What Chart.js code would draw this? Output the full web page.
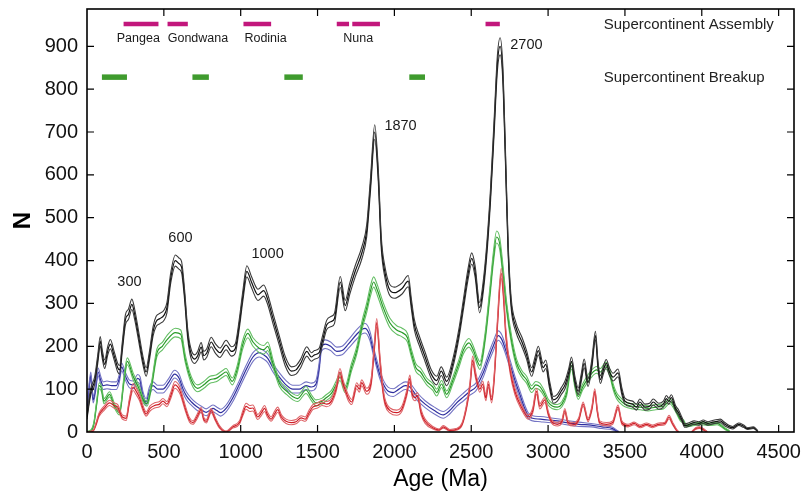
<!DOCTYPE html>
<html>
<head>
<meta charset="utf-8">
<script src="https://cdn.jsdelivr.net/npm/chart.js@4/dist/chart.umd.min.js"></script>
<style>
  html, body { margin: 0; padding: 0; background: #ffffff; }
  #wrap { width: 803px; height: 496px; }
</style>
</head>
<body>
<div id="wrap"><canvas id="c" width="803" height="496"></canvas></div>
<script>
// Age distribution of zircon counts (N) with upper / lower confidence bounds.
// Each row: [age (Ma), N, half-width of the confidence band]
const blackSeries = [
  [0,35,5],[15,75,7],[25,95,8],[50,120,9],[70,170,10],[86,212,11],[100,180,10],[115,158,10],
  [135,190,10],[152,205,11],[175,180,10],[200,150,10],[212,145,10],[230,200,11],[250,262,12],
  [270,275,12],[292,298,12],[310,275,12],[340,215,11],[365,165,10],[385,140,10],[405,175,10],
  [430,235,11],[450,258,12],[475,265,12],[500,272,12],[520,290,12],[545,360,12],[575,400,13],
  [598,393,13],[615,385,13],[635,320,12],[655,230,11],[675,185,11],[700,170,10],[720,178,10],
  [743,198,11],[760,178,10],[780,185,10],[808,210,11],[835,195,11],[865,185,11],[905,203,11],
  [940,188,11],[965,195,11],[990,250,11],[1015,320,12],[1040,375,13],[1070,350,13],[1100,325,13],
  [1112,320,13],[1150,330,13],[1175,310,12],[1210,265,12],[1250,215,11],[1290,165,11],[1330,142,10],
  [1360,145,10],[1390,160,10],[1430,188,11],[1460,175,10],[1480,180,10],[1510,185,10],[1530,210,11],
  [1560,250,11],[1590,258,12],[1610,265,12],[1648,350,13],[1680,295,12],[1710,335,13],[1745,375,13],
  [1790,420,14],[1820,470,14],[1845,580,15],[1872,700,17],[1895,600,15],[1915,440,14],[1940,370,13],
  [1965,335,13],[2000,325,13],[2050,335,13],[2090,352,13],[2110,300,12],[2130,250,12],[2165,210,11],
  [2200,175,11],[2240,135,10],[2275,120,10],[2305,142,10],[2340,118,10],[2380,160,10],[2420,230,11],
  [2450,300,12],[2480,370,13],[2503,405,13],[2525,375,13],[2555,290,12],[2575,330,13],[2600,420,14],
  [2625,550,15],[2650,720,17],[2670,860,18],[2688,900,20],[2705,840,18],[2722,650,16],[2740,430,14],
  [2760,300,12],[2790,245,11],[2830,210,11],[2860,180,10],[2893,140,10],[2915,165,10],[2936,190,10],
  [2968,150,10],[2985,158,10],[3010,110,9],[3035,75,8],[3060,80,8],[3085,95,8],[3110,110,9],
  [3135,140,9],[3152,165,10],[3175,120,9],[3196,95,8],[3215,125,9],[3235,160,10],[3260,115,9],
  [3285,160,10],[3308,225,10],[3325,155,9],[3340,122,9],[3360,145,9],[3378,160,9],[3400,140,9],
  [3423,128,9],[3455,138,9],[3480,95,8],[3500,72,7],[3550,65,7],[3575,58,7],[3597,70,7],
  [3630,58,7],[3660,60,7],[3684,70,7],[3720,60,7],[3750,65,7],[3770,78,7],[3785,72,7],
  [3802,80,7],[3830,55,6],[3850,45,6],[3870,30,5],[3890,15,4],[3920,18,4],[3950,22,4],
  [3980,20,4],[4010,24,4],[4040,20,4],[4070,23,4],[4100,25,4],[4120,26,4],[4150,18,4],
  [4180,12,3],[4200,10,3],[4240,18,3],[4270,14,3],[4300,8,2],[4335,10,2],[4365,2,1]
];

const greenSeries = [
  [0,0,1],[30,5,2],[45,20,3],[62,65,5],[80,108,7],[95,100,7],[110,72,6],[147,88,6],[180,60,5],
  [212,45,5],[240,120,7],[262,165,8],[300,130,8],[340,100,7],[370,72,6],[390,66,6],[420,110,7],
  [455,185,9],[490,200,9],[520,215,10],[575,232,10],[610,228,10],[640,170,9],[680,120,8],
  [720,102,8],[760,110,8],[800,122,8],[840,125,8],[880,135,8],[905,140,8],[945,118,8],
  [980,150,9],[1010,200,10],[1046,230,10],[1080,210,10],[1122,195,10],[1150,192,10],[1176,200,10],
  [1210,160,9],[1252,114,8],[1300,95,8],[1340,82,7],[1370,78,7],[1425,98,8],[1460,80,7],
  [1490,68,7],[1530,72,7],[1556,80,7],[1590,90,7],[1620,110,8],[1646,128,8],[1679,100,8],
  [1720,150,9],[1755,190,9],[1790,250,10],[1820,290,11],[1845,330,12],[1865,350,12],[1890,330,12],
  [1928,290,11],[1970,255,11],[2015,238,10],[2050,232,10],[2085,220,10],[2110,185,9],[2140,150,9],
  [2170,140,9],[2210,118,8],[2250,105,8],[2275,92,8],[2307,112,8],[2340,88,8],[2380,120,8],
  [2420,160,9],[2450,192,9],[2485,208,10],[2515,190,9],[2540,165,9],[2556,155,9],[2590,220,10],
  [2620,320,12],[2645,410,13],[2665,455,14],[2685,440,14],[2708,370,13],[2730,293,11],[2762,215,10],
  [2795,161,9],[2830,135,8],[2860,122,8],[2893,100,8],[2920,110,8],[2946,106,8],[2975,90,7],
  [3000,70,7],[3030,60,6],[3060,58,6],[3090,65,6],[3120,90,7],[3152,155,8],[3175,110,8],
  [3196,83,7],[3225,105,7],[3250,120,8],[3280,135,8],[3315,145,8],[3340,140,8],[3375,155,8],
  [3400,140,8],[3423,106,7],[3445,85,7],[3467,75,7],[3500,65,6],[3550,60,6],[3600,58,6],
  [3650,55,6],[3700,58,6],[3750,60,6],[3791,72,6],[3830,52,5],[3860,30,4],[3880,25,4],
  [3900,15,3],[3950,18,3],[4000,20,3],[4050,18,3],[4100,20,3],[4150,8,2],[4180,2,1]
];

const blueSeries = [
  [0,60,6],[12,100,8],[25,132,8],[40,75,7],[55,100,8],[72,140,9],[90,120,9],[105,108,9],
  [130,110,9],[160,108,9],[190,108,9],[210,125,9],[225,152,9],[250,130,9],[277,112,9],[300,110,9],
  [330,125,9],[345,120,9],[365,85,8],[385,70,8],[405,95,9],[430,108,9],[460,100,9],[494,100,9],
  [530,115,9],[570,135,9],[600,125,9],[625,100,9],[646,85,9],[680,70,8],[711,60,8],[745,52,8],
  [776,46,8],[819,55,8],[845,50,8],[870,45,8],[905,55,8],[949,80,9],[990,110,9],[1035,145,10],
  [1080,175,10],[1122,185,10],[1150,180,10],[1176,172,10],[1210,150,10],[1252,128,10],[1295,110,10],
  [1339,100,9],[1380,100,9],[1425,108,9],[1460,105,9],[1490,112,9],[1510,150,10],[1525,198,10],
  [1550,205,10],[1585,200,10],[1625,188,10],[1660,190,10],[1700,205,10],[1755,228,11],[1790,240,11],
  [1810,242,11],[1840,225,11],[1863,190,10],[1900,140,10],[1928,112,9],[1960,95,9],[1993,92,9],
  [2030,100,9],[2070,108,9],[2100,105,9],[2150,82,9],[2200,65,8],[2260,50,8],[2318,40,8],
  [2360,50,8],[2405,68,8],[2450,82,9],[2492,95,9],[2530,105,9],[2578,138,10],[2610,170,10],
  [2643,200,11],[2676,225,11],[2700,215,11],[2725,190,10],[2751,160,10],[2785,120,9],[2816,88,9],
  [2845,58,8],[2871,38,7],[2900,32,6],[2950,30,6],[3000,28,6],[3060,26,5],[3120,22,5],
  [3200,18,5],[3280,16,4],[3350,12,4],[3420,8,3],[3445,3,2],[3460,0,1]
];

const redSeries = [
  [0,0,1],[40,3,1],[60,20,3],[78,40,4],[110,55,5],[147,68,6],[175,62,6],[200,58,6],[230,35,5],
  [255,32,5],[275,70,6],[300,105,8],[320,95,8],[342,80,7],[365,55,6],[385,42,5],[410,55,6],
  [440,62,6],[472,65,6],[494,72,6],[520,65,6],[545,85,7],[572,110,8],[600,100,8],[613,88,7],
  [640,55,6],[667,28,5],[689,22,4],[715,35,5],[743,52,5],[760,30,4],[776,25,4],[808,50,5],
  [835,30,4],[862,12,3],[905,1,1],[949,12,3],[992,22,4],[1015,45,6],[1035,60,7],[1060,55,7],
  [1079,56,7],[1111,35,6],[1135,45,6],[1155,55,7],[1175,40,6],[1198,30,5],[1220,42,6],[1241,52,6],
  [1265,35,5],[1295,25,5],[1330,22,5],[1360,24,5],[1393,33,5],[1420,30,5],[1445,45,6],[1469,58,6],
  [1500,62,6],[1530,68,6],[1560,65,6],[1590,72,6],[1620,100,7],[1646,140,8],[1665,115,8],
  [1679,100,7],[1700,80,7],[1722,70,6],[1755,108,7],[1772,100,7],[1787,115,7],[1820,95,7],
  [1850,120,8],[1870,200,9],[1885,255,10],[1907,165,9],[1925,100,8],[1939,70,7],[1972,50,6],
  [2015,45,6],[2050,55,6],[2080,90,7],[2101,125,8],[2115,90,7],[2135,80,7],[2150,85,7],
  [2175,45,6],[2200,25,5],[2250,10,3],[2290,5,2],[2318,12,3],[2360,4,2],[2400,6,2],[2440,18,3],
  [2470,60,5],[2492,110,7],[2509,168,9],[2530,130,8],[2556,100,7],[2575,112,7],[2595,80,7],
  [2611,112,7],[2633,75,7],[2650,130,8],[2670,250,10],[2695,370,12],[2710,320,12],[2725,230,10],
  [2751,150,9],[2784,95,8],[2827,58,6],[2871,35,5],[2900,50,6],[2925,95,7],[2946,60,6],
  [2979,75,6],[3000,45,5],[3022,25,4],[3060,18,4],[3090,25,4],[3109,50,5],[3130,22,4],
  [3170,18,4],[3200,30,4],[3228,65,5],[3260,28,4],[3285,55,5],[3304,95,6],[3320,50,5],
  [3336,22,4],[3380,18,4],[3420,22,4],[3455,58,5],[3480,22,4],[3520,15,3],[3560,20,3],
  [3600,13,3],[3640,18,3],[3680,13,3],[3720,18,3],[3760,20,3],[3787,35,4],[3810,20,3],
  [3835,5,2],[3850,0,1],[3900,null,0],[3935,0,1],[3960,8,2],[3985,10,2],[4010,6,2],[4035,0,1]
];

// Supercontinent assembly / breakup intervals: [start Ma, end Ma]
const assemblySpans = [[238,465],[524,656],[1018,1198],[1625,1705],[1726,1906],[2593,2686]];
const breakupSpans  = [[97,260],[686,793],[1284,1404],[2097,2199]];
const assemblyLevel = 952;
const breakupLevel  = 828;

// Supercontinent names: [text, age, N]
const continentNames = [["Pangea",334,919],["Gondwana",722,919],["Rodinia",1162,919],["Nuna",1765,919]];
// Peak ages: [text, age, N]
const peakLabels = [["300",276,350],["600",608,453],["1000",1175,416],["1870",2040,713],["2700",2859,904]];
// Legend captions: [text, age, N]
const legendTexts = [["Supercontinent Assembly",3362,950],["Supercontinent Breakup",3362,827]];

const xTicks = [0,500,1000,1500,2000,2500,3000,3500,4000,4500];
const yTicks = [0,100,200,300,400,500,600,700,800,900];

const FONT = '"Liberation Sans", Arial, Helvetica, sans-serif';

function band(rows, label, midColor, edgeColor) {
  const clean = v => (v === null ? null : Math.max(0, v));
  const mk = (sign, color, w) => ({
    label: label,
    data: rows.map(r => ({ x: r[0], y: r[1] === null ? null : clean(r[1] + sign * r[2]) })),
    borderColor: color,
    borderWidth: w,
    pointRadius: 0,
    fill: false,
    cubicInterpolationMode: 'monotone',
    spanGaps: false
  });
  return [mk(1, edgeColor, 1.1), mk(0, midColor, 1.2), mk(-1, edgeColor, 1.1)];
}

function spanSets(spans, level, color, width) {
  return spans.map(s => ({
    label: 'span',
    data: [{ x: s[0], y: level }, { x: s[1], y: level }],
    borderColor: color,
    borderWidth: width,
    borderCapStyle: 'butt',
    pointRadius: 0,
    fill: false
  }));
}

const datasets = [].concat(
  spanSets(assemblySpans, assemblyLevel, '#c2177c', 4.5),
  spanSets(breakupSpans, breakupLevel, '#3f9b2e', 5.5),
  band(blackSeries, 'all', '#111111', '#3a3a3a'),
  band(redSeries, 'red', '#cf1d26', '#de6468'),
  band(greenSeries, 'green', '#279a27', '#64bf64'),
  band(blueSeries, 'blue', '#2e2e9e', '#7474c4')
);

// Frame with inward ticks on all four sides, plus the annotation texts.
const frameAndText = {
  id: 'frameAndText',
  afterDatasetsDraw(chart) {
    const ctx = chart.ctx;
    const a = chart.chartArea;
    const xs = chart.scales.x, ys = chart.scales.y;
    ctx.save();
    ctx.strokeStyle = '#000';
    ctx.lineWidth = 1.6;
    ctx.strokeRect(a.left, a.top, a.right - a.left, a.bottom - a.top);
    ctx.lineWidth = 1.2;
    const tl = 7;
    ctx.beginPath();
    xTicks.forEach(v => {
      if (v === 0) return;
      const px = xs.getPixelForValue(v);
      ctx.moveTo(px, a.bottom); ctx.lineTo(px, a.bottom - tl);
      ctx.moveTo(px, a.top); ctx.lineTo(px, a.top + tl);
    });
    yTicks.forEach(v => {
      if (v === 0) return;
      const py = ys.getPixelForValue(v);
      ctx.moveTo(a.left, py); ctx.lineTo(a.left + tl, py);
      ctx.moveTo(a.right, py); ctx.lineTo(a.right - tl, py);
    });
    ctx.stroke();

    ctx.fillStyle = '#1a1a1a';
    ctx.textBaseline = 'middle';
    ctx.textAlign = 'center';
    ctx.font = '12.5px ' + FONT;
    continentNames.forEach(t => ctx.fillText(t[0], xs.getPixelForValue(t[1]), ys.getPixelForValue(t[2])));
    ctx.font = '14.5px ' + FONT;
    peakLabels.forEach(t => ctx.fillText(t[0], xs.getPixelForValue(t[1]), ys.getPixelForValue(t[2])));
    ctx.textAlign = 'left';
    ctx.fillStyle = '#222';
    ctx.font = '15px ' + FONT;
    legendTexts.forEach(t => ctx.fillText(t[0], xs.getPixelForValue(t[1]), ys.getPixelForValue(t[2])));
    ctx.restore();
  }
};

function noScalePadding(s) {
  s.paddingTop = 0; s.paddingBottom = 0; s.paddingLeft = 0; s.paddingRight = 0;
}

new Chart(document.getElementById('c'), {
  type: 'line',
  data: { datasets },
  options: {
    responsive: false,
    animation: false,
    events: [],
    layout: { padding: { left: 0, right: 9, top: 9, bottom: 0 } },
    plugins: { legend: { display: false }, tooltip: { enabled: false } },
    scales: {
      x: {
        type: 'linear', min: 0, max: 4600,
        afterBuildTicks: s => { s.ticks = xTicks.map(v => ({ value: v })); },
        afterFit: s => { s.height = 64; noScalePadding(s); },
        grid: { display: false, drawTicks: false },
        border: { display: false },
        ticks: { color: '#111', padding: 8, maxRotation: 0, callback: v => String(v), font: { family: FONT, size: 20 } },
        title: { display: true, text: 'Age (Ma)', color: '#000', padding: { top: 0, bottom: 3 }, font: { family: FONT, size: 23 } }
      },
      y: {
        type: 'linear', min: 0, max: 987,
        afterBuildTicks: s => { s.ticks = yTicks.map(v => ({ value: v })); },
        afterFit: s => { s.width = 87; noScalePadding(s); },
        grid: { display: false, drawTicks: false },
        border: { display: false },
        ticks: { color: '#111', padding: 9, callback: v => String(v), font: { family: FONT, size: 20 } },
        title: { display: true, text: 'N', color: '#000', padding: { top: 9, bottom: 0 }, font: { family: FONT, size: 24, weight: 'bold' } }
      }
    }
  },
  plugins: [frameAndText]
});
</script>
</body>
</html>
